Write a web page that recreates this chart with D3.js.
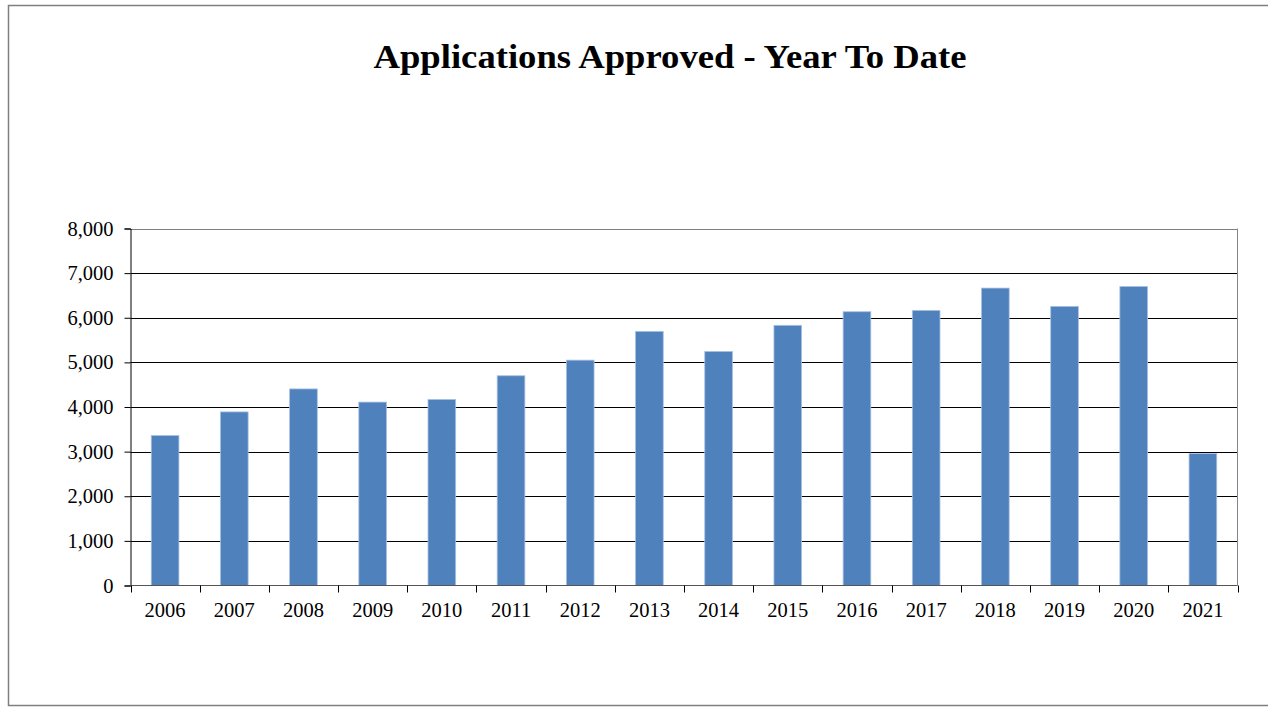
<!DOCTYPE html>
<html>
<head>
<meta charset="utf-8">
<title>Applications Approved - Year To Date</title>
<script src="https://d3js.org/d3.v7.min.js"></script>
<style>
  body { margin: 0; background: #fff; }
  svg { display: block; font-family: "Liberation Serif", "Times New Roman", serif; }
</style>
</head>
<body>
<svg id="chart" width="1268" height="707"></svg>
<script>
// values
var years = ["2006", "2007", "2008", "2009", "2010", "2011", "2012", "2013",
             "2014", "2015", "2016", "2017", "2018", "2019", "2020", "2021"];
var approved = [3360, 3890, 4405, 4110, 4170, 4700, 5050, 5695,
                5245, 5830, 6135, 6165, 6665, 6255, 6700, 2955];
var yTicks = [0, 1000, 2000, 3000, 4000, 5000, 6000, 7000, 8000];

var svg = d3.select("#chart");

// outer chart frame (runs off the right edge like the original)
svg.append("rect")
  .attr("x", 8.5).attr("y", 5.5)
  .attr("width", 1300).attr("height", 700)
  .attr("fill", "none")
  .attr("stroke", "#7f7f7f")
  .attr("stroke-width", 1.5);

svg.append("text")
  .attr("x", 670).attr("y", 68)
  .attr("text-anchor", "middle")
  .attr("font-size", "33px")
  .attr("font-weight", "bold")
  .attr("textLength", 593)
  .attr("lengthAdjust", "spacingAndGlyphs")
  .text("Applications Approved - Year To Date");

// plot area (don't call it "top", that's window.top)
var plotL = 130.5, plotR = 1237.5, plotT = 228.5, plotB = 585.5;

var x = d3.scaleBand().domain(years).range([plotL, plotR]).paddingInner(0.6).paddingOuter(0.3);
var y = d3.scaleLinear().domain([0, 8000]).range([plotB, plotT]);

// gridlines
svg.append("g")
  .selectAll("line")
  .data(yTicks.filter(function(d) { return d > 0; }))
  .enter().append("line")
  .attr("x1", plotL).attr("x2", plotR)
  .attr("y1", function(d) { return Math.round(y(d)) + 0.5; })
  .attr("y2", function(d) { return Math.round(y(d)) + 0.5; })
  .attr("stroke", function(d) { return (d == 8000) ? "#7f7f7f" : "#000"; })
  .attr("stroke-width", 1);

// right border of plot area
svg.append("line")
  .attr("x1", plotR).attr("x2", plotR)
  .attr("y1", plotT).attr("y2", plotB)
  .attr("stroke", "#868686");

// bars
svg.append("g")
  .selectAll("rect")
  .data(approved)
  .enter().append("rect")
  .attr("x", function(d, i) { return x(years[i]); })
  .attr("y", function(d) { return y(d); })
  .attr("width", x.bandwidth())
  .attr("height", function(d) { return plotB - y(d); })
  .attr("fill", "#4f81bd")
  .attr("stroke", "#a9c1e0")
  .attr("stroke-width", 0.8);

// y axis
var yAxis = svg.append("g")
  .attr("transform", "translate(" + plotL + ",0)")
  .call(d3.axisLeft(y).tickValues(yTicks).tickSize(6).tickPadding(11)
    .tickFormat(d3.format(",")));
yAxis.select(".domain").attr("stroke", "#000");
yAxis.selectAll(".tick line").attr("stroke", "#000");
yAxis.selectAll("text")
  .attr("font-size", "20.5px")
  .attr("font-family", "Liberation Serif, serif")
  .attr("fill", "#000");

// x axis: ticks between categories
var boundaries = d3.range(years.length + 1).map(function(i) {
  return plotL + i * (plotR - plotL) / years.length;
});
var xAxis = svg.append("g");
xAxis.append("line")
  .attr("x1", plotL).attr("x2", plotR)
  .attr("y1", plotB).attr("y2", plotB)
  .attr("stroke", "#555");
xAxis.selectAll(".tk")
  .data(boundaries)
  .enter().append("line")
  .attr("class", "tk")
  .attr("x1", function(d) { return Math.round(d) + 0.5; })
  .attr("x2", function(d) { return Math.round(d) + 0.5; })
  .attr("y1", plotB).attr("y2", plotB + 7)
  .attr("stroke", "#000");
xAxis.selectAll("text")
  .data(years)
  .enter().append("text")
  .attr("x", function(d) { return x(d) + x.bandwidth() / 2; })
  .attr("y", 617)
  .attr("text-anchor", "middle")
  .attr("font-size", "20.5px")
  .text(function(d) { return d; });
</script>
</body>
</html>
